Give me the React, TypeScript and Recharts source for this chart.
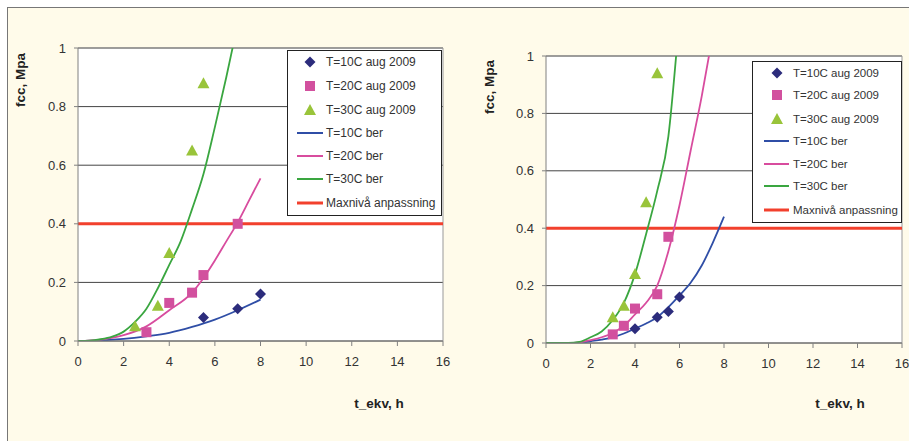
import React from 'react';
import {
    ComposedChart,
    Line,
    Scatter,
    XAxis,
    YAxis,
    CartesianGrid,
    ReferenceLine
} from 'recharts';

// left chart: measured points [t_ekv, fcc]
const leftObs10 = [[5.5, 0.08], [7, 0.11], [8, 0.16]];
const leftObs20 = [[3, 0.03], [4, 0.13], [5, 0.165], [5.5, 0.225], [7, 0.4]];
const leftObs30 = [[2.5, 0.05], [3.5, 0.12], [4, 0.3], [5, 0.65], [5.5, 0.88]];

// left chart: calculated curves
const leftBer10 = [[0, 0], [1, 0.002], [2, 0.007], [3, 0.016], [4, 0.028], [5, 0.048], [6, 0.073], [7, 0.105], [8, 0.141]];
const leftBer20 = [[0, 0], [1, 0.005], [2, 0.02], [3, 0.05], [4, 0.105], [5, 0.165], [5.5, 0.215], [6, 0.275], [6.5, 0.34], [7, 0.405], [7.5, 0.48], [8, 0.555]];
const leftBer30 = [[0, 0], [0.5, 0.001], [1, 0.006], [1.5, 0.015], [2, 0.032], [2.5, 0.065], [3, 0.11], [3.5, 0.18], [4, 0.26], [4.5, 0.34], [5, 0.45], [5.5, 0.57], [6, 0.73], [6.5, 0.9], [6.83, 1.02]];

// right chart: measured points
const rightObs10 = [[4, 0.05], [5, 0.09], [5.5, 0.11], [6, 0.16]];
const rightObs20 = [[3, 0.03], [3.5, 0.06], [4, 0.12], [5, 0.17], [5.5, 0.37]];
const rightObs30 = [[3, 0.09], [3.5, 0.13], [4, 0.24], [4.5, 0.49], [5, 0.94]];

// right chart: calculated curves
const rightBer10 = [[0, 0], [1.5, 0], [2, 0.006], [2.5, 0.012], [3, 0.02], [3.5, 0.033], [4, 0.05], [4.5, 0.068], [5, 0.09], [5.5, 0.125], [6, 0.166], [6.5, 0.21], [7, 0.27], [7.5, 0.35], [8, 0.44]];
const rightBer20 = [[0, 0], [1, 0], [1.5, 0.002], [2, 0.01], [2.5, 0.02], [3, 0.035], [3.5, 0.06], [4, 0.1], [4.5, 0.14], [5, 0.2], [5.5, 0.32], [6, 0.48], [6.5, 0.67], [7, 0.86], [7.37, 1.02]];
const rightBer30 = [[0, 0], [1, 0], [1.5, 0.004], [2, 0.02], [2.5, 0.04], [3, 0.08], [3.5, 0.14], [4, 0.24], [4.5, 0.38], [5, 0.53], [5.5, 0.72], [5.87, 1.02]];

const maxLevel = [[0, 0.4], [16, 0.4]];

const xTicks = [0, 2, 4, 6, 8, 10, 12, 14, 16];
const yTicks = [0, 0.2, 0.4, 0.6, 0.8, 1];

const legendLabels = [
    'T=10C aug 2009',
    'T=20C aug 2009',
    'T=30C aug 2009',
    'T=10C ber',
    'T=20C ber',
    'T=30C ber',
    'Maxnivå anpassning'
];

const C_OBS10 = '#2c2c7c';
const C_OBS20 = '#d2509e';
const C_OBS30 = '#99c43a';
const C_BER10 = '#2f4ea6';
const C_BER20 = '#d84c9e';
const C_BER30 = '#3aa640';
const C_MAX = '#f2402d';
const FONT = '"Liberation Sans", Arial, sans-serif';

const pts = (a: number[][]) => a.map(([x, y]) => ({ x, y }));

const Diamond = (p: any) => {
    const { cx, cy } = p;
    const r = 5.5;
    return <path d={`M${cx},${cy - r}L${cx + r},${cy}L${cx},${cy + r}L${cx - r},${cy}Z`} fill={C_OBS10} />;
};
const Square = (p: any) => {
    const { cx, cy } = p;
    return <rect x={cx - 5} y={cy - 5} width={10} height={10} fill={C_OBS20} />;
};
const Triangle = (p: any) => {
    const { cx, cy } = p;
    return <path d={`M${cx},${cy - 6}L${cx + 6},${cy + 5}L${cx - 6},${cy + 5}Z`} fill={C_OBS30} />;
};

function FccChart(props: any) {
    const { width, margin, obs10, obs20, obs30, ber10, ber20, ber30 } = props;
    const tickStyle = { fill: '#333', fontSize: 13, fontFamily: FONT };
    return (
        <ComposedChart width={width} height={441} margin={margin}>
            <CartesianGrid horizontal={true} vertical={false} stroke="#444" fill="#ffffff" />
            <XAxis
                type="number"
                dataKey="x"
                domain={[0, 16]}
                ticks={xTicks}
                height={30}
                tickSize={5}
                tickMargin={11}
                stroke="#808080"
                tick={tickStyle}
                allowDataOverflow
            />
            <YAxis
                type="number"
                dataKey="y"
                domain={[0, 1]}
                ticks={yTicks}
                width={30}
                tickSize={4}
                tickMargin={8}
                stroke="#808080"
                tick={tickStyle}
                allowDataOverflow
            />
            <ReferenceLine y={1} stroke="#999" />
            <ReferenceLine x={16} stroke="#999" />

            <Line data={pts(maxLevel)} dataKey="y" stroke={C_MAX} strokeWidth={3} dot={false} isAnimationActive={false} />
            <Line data={pts(ber10)} dataKey="y" stroke={C_BER10} strokeWidth={1.8} dot={false} type="monotone" isAnimationActive={false} />
            <Line data={pts(ber20)} dataKey="y" stroke={C_BER20} strokeWidth={1.8} dot={false} type="monotone" isAnimationActive={false} />
            <Line data={pts(ber30)} dataKey="y" stroke={C_BER30} strokeWidth={1.8} dot={false} type="monotone" isAnimationActive={false} />

            <Scatter data={pts(obs10)} dataKey="y" shape={Diamond} isAnimationActive={false} />
            <Scatter data={pts(obs20)} dataKey="y" shape={Square} isAnimationActive={false} />
            <Scatter data={pts(obs30)} dataKey="y" shape={Triangle} isAnimationActive={false} />
        </ComposedChart>
    );
}

function LegendBox(props: any) {
    const { left, top, width, height, rows, textX, markerX, lineX1, lineX2, fontSize } = props;
    const marker = (i: number, cy: number) => {
        if (i === 0) return <Diamond cx={markerX} cy={cy} />;
        if (i === 1) return <Square cx={markerX} cy={cy} />;
        if (i === 2) return <Triangle cx={markerX} cy={cy} />;
        const colors = [C_BER10, C_BER20, C_BER30, C_MAX];
        return <line x1={lineX1} x2={lineX2} y1={cy} y2={cy} stroke={colors[i - 3]} strokeWidth={i === 6 ? 3 : 2} />;
    };
    return (
        <svg style={{ position: 'absolute', left, top }} width={width} height={height}>
            <rect x={0.5} y={0.5} width={width - 1} height={height - 1} fill="#fff" stroke="#222" />
            {legendLabels.map((label, i) => (
                <g key={label}>
                    {marker(i, rows[i])}
                    <text x={textX} y={rows[i]} dy="0.35em" fontSize={fontSize} fontFamily={FONT} fill="#333">{label}</text>
                </g>
            ))}
        </svg>
    );
}

const titleStyle: React.CSSProperties = {
    position: 'absolute',
    fontFamily: FONT,
    fontWeight: 'bold',
    fontSize: 13.5,
    color: '#222',
    whiteSpace: 'nowrap'
};

export default function App() {
    return (
        <div style={{ position: 'absolute', left: 0, top: 0, width: 909, height: 441, background: '#fff', overflow: 'hidden' }}>
            <div style={{ position: 'absolute', left: 7, top: 7, width: 902, height: 434, background: '#fffbea', borderTop: '1.5px solid #777', borderLeft: '1.5px solid #777' }} />

            <div style={{ position: 'absolute', left: 0, top: 0 }}>
                <FccChart
                    width={460}
                    margin={{ top: 48, right: 17, left: 48, bottom: 70 }}
                    obs10={leftObs10}
                    obs20={leftObs20}
                    obs30={leftObs30}
                    ber10={leftBer10}
                    ber20={leftBer20}
                    ber30={leftBer30}
                />
            </div>
            <div style={{ position: 'absolute', left: 460, top: 0 }}>
                <FccChart
                    width={449}
                    margin={{ top: 56, right: 7, left: 56, bottom: 68 }}
                    obs10={rightObs10}
                    obs20={rightObs20}
                    obs30={rightObs30}
                    ber10={rightBer10}
                    ber20={rightBer20}
                    ber30={rightBer30}
                />
            </div>

            <LegendBox left={287} top={50} width={155} height={166} rows={[12, 36, 60, 83, 106, 129, 153]}
                textX={39} markerX={23} lineX1={10} lineX2={36} fontSize={12} />
            <LegendBox left={752} top={61} width={150} height={162} rows={[12, 34, 58, 80, 103, 125, 149]}
                textX={41} markerX={25} lineX1={12} lineX2={37} fontSize={11.5} />

            <div style={{ ...titleStyle, left: 20, top: 80, transform: 'translate(-50%, -50%) rotate(-90deg)' }}>fcc, Mpa</div>
            <div style={{ ...titleStyle, left: 489, top: 87, transform: 'translate(-50%, -50%) rotate(-90deg)' }}>fcc, Mpa</div>
            <div style={{ ...titleStyle, left: 379, top: 403, transform: 'translate(-50%, -50%)' }}>t_ekv, h</div>
            <div style={{ ...titleStyle, left: 840, top: 403, transform: 'translate(-50%, -50%)' }}>t_ekv, h</div>
        </div>
    );
}
